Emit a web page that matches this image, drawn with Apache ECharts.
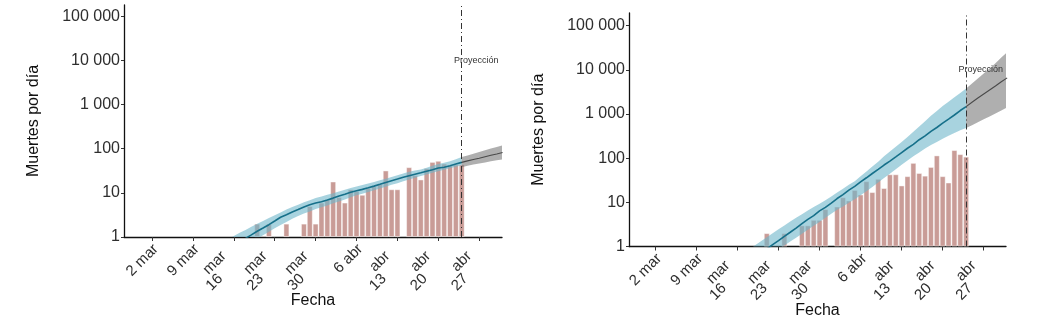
<!DOCTYPE html>
<html><head><meta charset="utf-8">
<script src="https://cdn.jsdelivr.net/npm/echarts@6/dist/echarts.min.js"></script>
<style>html,body{margin:0;padding:0;background:#fff}#c{width:1041px;height:333px}</style>
</head><body><div id="c"></div>
<script>
// Day numbers are counted from 2 March 2020 (day 0)
const tickDays = [0, 7, 14, 21, 28, 35, 42, 49, 56];
const tickLabels = ['2 mar', '9 mar', 'mar\n16', 'mar\n23', 'mar\n30', '6 abr', 'abr\n13', 'abr\n20', 'abr\n27'];
const projectionDay = 53;
const projectionText = 'Proyección';
const projectionTextPos = [55.5, 10000];

// ---- left panel ----
const barDaysL = [18,20,23,26,27,28,29,30,31,32,33,34,35,36,37,38,39,40,41,42,44,45,46,47,48,49,50,51,52,53];
const barValsL = [2,2,2,2,5,2,6,7,18,8,6,12,11,9,13,14,16,32,12,12,38,25,20,36,50,53,46,42,44,44];
const lineDaysL = [16,17,18,19,20,21,22,23,24,25,26,27,28,29,30,31,32,33,34,35,36,37,38,39,40,41,42,43,44,45,46,47,48,49,50,51,52,53];
const lineValsL = [0.93,1.12,1.35,1.6,1.9,2.3,2.8,3.2,3.7,4.2,4.8,5.4,5.9,6.3,6.9,7.6,8.5,9.3,10.3,11.2,12.0,13.0,14.2,15.6,17.2,18.8,20.5,22.5,24.5,26.5,28.5,31,33.5,36.5,38,41,45,49];
const bandDaysL = [13,14,15,16,17,18,19,20,21,22,23,24,25,26,27,28,29,30,31,32,33,34,35,36,37,38,39,40,41,42,43,44,45,46,47,48,49,50,51,52,53];
const bandUpL = [0.9,1.05,1.25,1.45,1.7,2.0,2.3,2.7,3.1,3.6,4.2,4.8,5.4,6.1,6.8,7.6,8.3,9.0,9.8,10.7,11.7,12.8,14,15,16.3,17.7,19.2,21,23,25,27.5,30,32,34,37,41,45,48,52,58,65];
const bandLoL = [0.35,0.43,0.52,0.63,0.76,0.92,1.1,1.32,1.58,1.88,2.2,2.6,3.0,3.4,3.8,4.3,4.7,5.2,5.8,6.4,7.1,8.0,8.8,9.6,10.5,11.5,12.6,13.8,15.2,16.6,18.2,20,22,24,26,28.5,31,33.5,36,39,42];
const projDaysL = [53,54,55,56,57,58,59,60];
const projValsL = [49,53,57,61,66,71,76,82];
const projUpL = [65,70,77,84,92,101,110,120];
const projLoL = [38,41,44,46,49,52,55,57];

// ---- right panel ----
const barDaysR = [19,22,25,26,27,28,29,31,32,33,34,35,36,37,38,39,40,41,42,43,44,45,46,47,48,49,50,51,52,53];
const barValsR = [2,2,3,3,4,4,7,8,13,11,19,15,30,17,34,21,43,43,24,39,78,46,40,63,115,39,28,152,123,108];
const lineDaysR = [19,20,21,22,23,24,25,26,27,28,29,30,31,32,33,34,35,36,37,38,39,40,41,42,43,44,45,46,47,48,49,50,51,52,53];
const lineValsR = [0.88,1.1,1.36,1.7,2.1,2.6,3.3,4.1,5.0,6.4,7.7,9.6,12.2,15.0,18.9,23,29,36,45,56,70,86,107,134,168,205,262,320,405,495,625,770,950,1200,1470];
const bandDaysR = [16,17,18,19,20,21,22,23,24,25,26,27,28,29,30,31,32,33,34,35,36,37,38,39,40,41,42,43,44,45,46,47,48,49,50,51,52,53];
const bandUpR = [0.85,1.07,1.32,1.62,2.0,2.45,3.0,3.7,4.5,5.4,6.5,7.8,9.3,11.2,13.5,16.6,20.4,25,30,39,50,65,83,110,141,182,234,302,398,525,690,912,1175,1510,1900,2400,3000,3800];
const bandLoR = [0.32,0.4,0.5,0.63,0.76,0.89,1.05,1.29,1.58,1.95,2.4,2.95,3.6,4.5,5.5,6.8,8.1,9.8,11.7,14.5,17.8,22.4,28,35.5,44.7,56,71,89,110,135,166,200,234,275,324,372,427,480];
const projDaysR = [53,54,55,56,57,58,59,60];
const projValsR = [1470,1850,2300,2850,3500,4300,5400,6600];
const projUpR = [3800,4900,6400,8300,10800,14200,19000,25000];
const projLoR = [480,560,650,760,880,1030,1200,1420];

const FONT = '"Liberation Sans", Arial, sans-serif';
const zip = (a, b) => a.map((x, i) => [x, b[i]]);
const fmtY = v => String(Math.round(v)).replace(/\B(?=(\d{3})+(?!\d))/g, ' ');
const labelPart = (v, k) => {
  const i = tickDays.indexOf(Math.round(v));
  if (i < 0) return '';
  const parts = tickLabels[i].split('\n');
  return parts[k] || '';
};
const singleDays = tickDays.filter((d, i) => tickLabels[i].indexOf('\n') < 0);
const doubleDays = tickDays.filter((d, i) => tickLabels[i].indexOf('\n') >= 0);

function xAxes(g, min, max) {
  const base = {type: 'value', gridIndex: g, min, max, position: 'bottom', splitLine: {show: false}};
  const lab = {rotate: 45, align: 'right', fontSize: 15, color: '#2e2e2e', fontFamily: FONT};
  return [
    Object.assign({}, base, {
      axisLine: {show: true, onZero: false, lineStyle: {color: '#111', width: 1.3}},
      axisTick: {show: true, customValues: tickDays, length: 4, lineStyle: {color: '#333'}},
      axisLabel: Object.assign({}, lab, {customValues: singleDays, verticalAlign: 'top', margin: 3, padding: [0, 2, 0, 0], formatter: v => labelPart(v, 0)}),
      name: 'Fecha', nameLocation: 'middle', nameGap: 56,
      nameTextStyle: {fontSize: 16, color: '#111', fontFamily: FONT}
    }),
    Object.assign({}, base, {
      axisLine: {show: false}, axisTick: {show: false},
      axisLabel: Object.assign({}, lab, {customValues: doubleDays, verticalAlign: 'middle', margin: 7, padding: [0, 14, 0, 0], formatter: v => labelPart(v, 0)})
    }),
    Object.assign({}, base, {
      axisLine: {show: false}, axisTick: {show: false},
      axisLabel: Object.assign({}, lab, {customValues: doubleDays, verticalAlign: 'middle', margin: 26, padding: [0, 19, 0, 0], formatter: v => labelPart(v, 1)})
    })
  ];
}
function yAxis(g, max) {
  return {
    type: 'log', logBase: 10, gridIndex: g, min: 1, max,
    axisLine: {show: true, onZero: false, lineStyle: {color: '#111', width: 1.3}},
    axisTick: {show: true, length: 3, lineStyle: {color: '#333'}},
    splitLine: {show: false},
    axisLabel: {fontSize: 16, color: '#2e2e2e', margin: 4, showMaxLabel: false, formatter: fmtY, fontFamily: FONT},
    name: 'Muertes por día', nameLocation: 'middle', nameGap: 82,
    nameTextStyle: {fontSize: 16, color: '#111', fontFamily: FONT}
  };
}
function band(xi, yi, days, up, lo, color, z) {
  return {
    type: 'custom', xAxisIndex: xi, yAxisIndex: yi, clip: true, silent: true, z,
    data: [[days[0], up[0]]],
    renderItem: (params, api) => {
      const pts = [];
      for (let i = 0; i < days.length; i++) pts.push(api.coord([days[i], up[i]]));
      for (let i = days.length - 1; i >= 0; i--) pts.push(api.coord([days[i], lo[i]]));
      return {type: 'polygon', shape: {points: pts}, style: {fill: color}};
    }
  };
}
function panelSeries(xi, yi, bd, bv, bandD, bUp, bLo, lD, lV, pD, pV, pUp, pLo) {
  return [
    {type: 'bar', xAxisIndex: xi, yAxisIndex: yi, data: zip(bd, bv), barWidth: 5.8, z: 2,
     itemStyle: {color: '#c99c97', borderColor: 'rgba(255,255,255,0.55)', borderWidth: 0.8}},
    band(xi, yi, bandD, bUp, bLo, 'rgba(110,182,202,0.6)', 3),
    band(xi, yi, pD, pUp, pLo, 'rgba(95,95,95,0.5)', 3),
    {type: 'line', xAxisIndex: xi, yAxisIndex: yi, data: zip(lD, lV), symbol: 'none', z: 5,
     lineStyle: {color: '#16708a', width: 1.6},
     markLine: {silent: true, symbol: ['none', 'none'], label: {show: false},
       lineStyle: {color: '#333', width: 1, type: [6, 3, 1, 3]}, data: [{xAxis: projectionDay}]}},
    {type: 'line', xAxisIndex: xi, yAxisIndex: yi, data: zip(pD, pV), symbol: 'none', z: 5,
     lineStyle: {color: '#4a4a4a', width: 1.1}},
    {type: 'custom', xAxisIndex: xi, yAxisIndex: yi, silent: true, z: 6,
     data: [projectionTextPos],
     renderItem: (params, api) => {
       const p = api.coord(projectionTextPos);
       return {type: 'text', x: p[0], y: p[1],
         style: {text: projectionText, fill: '#333', fontSize: 9, fontFamily: FONT, align: 'center', verticalAlign: 'middle'}};
     }}
  ];
}

const chart = echarts.init(document.getElementById('c'), null, {renderer: 'canvas'});
chart.setOption({
  animation: false,
  backgroundColor: '#fff',
  textStyle: {fontFamily: FONT},
  grid: [
    {left: 124, top: 5, width: 378, height: 232},
    {left: 629, top: 13, width: 377, height: 233.5}
  ],
  xAxis: [].concat(xAxes(0, -4.8, 59.9), xAxes(1, -4.5, 59.8)),
  yAxis: [yAxis(0, 180000), yAxis(1, 194000)],
  series: [].concat(
    panelSeries(0, 0, barDaysL, barValsL, bandDaysL, bandUpL, bandLoL, lineDaysL, lineValsL, projDaysL, projValsL, projUpL, projLoL),
    panelSeries(3, 1, barDaysR, barValsR, bandDaysR, bandUpR, bandLoR, lineDaysR, lineValsR, projDaysR, projValsR, projUpR, projLoR)
  )
});
</script></body></html>
